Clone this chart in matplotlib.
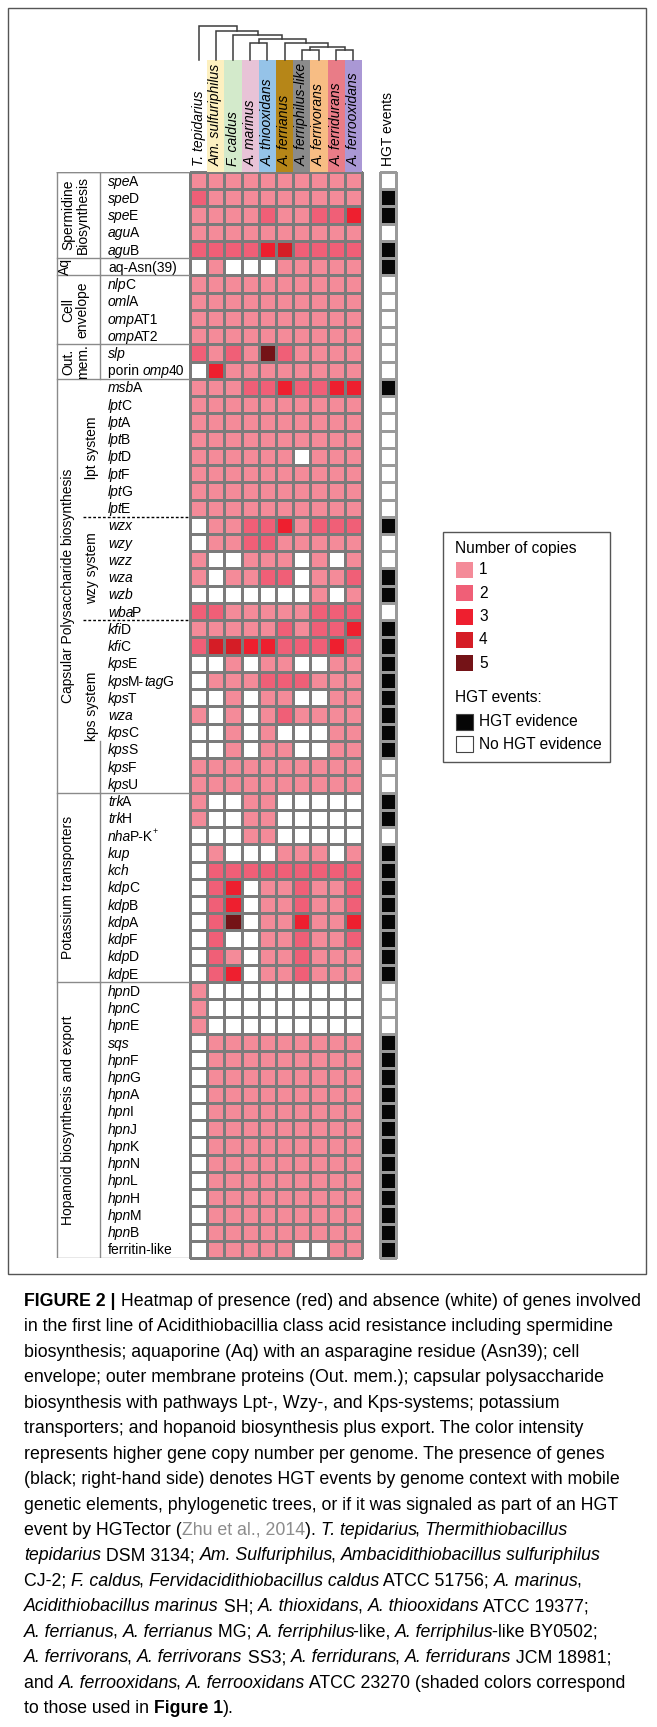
import re
import matplotlib
matplotlib.use('Agg')
import matplotlib.pyplot as plt
import numpy as np
from matplotlib.colors import ListedColormap, BoundaryNorm
from matplotlib.font_manager import FontProperties
from matplotlib.transforms import offset_copy
from matplotlib.patches import Rectangle

FONT = 'Liberation Sans'
plt.rcParams['font.family'] = [FONT, 'DejaVu Sans']

# genomes (columns), in tree order
species = ['T. tepidarius', 'Am. sulfuriphilus', 'F. caldus', 'A. marinus',
           'A. thiooxidans', 'A. ferrianus', 'A. ferriphilus-like',
           'A. ferrivorans', 'A. ferridurans', 'A. ferrooxidans']
species_colors = [None, '#fdf0c0', '#d3eacb', '#e8c3d7', '#95c3e8',
                  '#b68618', '#8b8b8b', '#f7bd84', '#e97c87', '#aa98d5']

# gene labels, *...* = italic part, ^x = superscript
genes = ['*spe*A', '*spe*D', '*spe*E', '*agu*A', '*agu*B',
         'aq-Asn(39)',
         '*nlp*C', '*oml*A', '*omp*AT1', '*omp*AT2',
         '*slp*', 'porin *omp*40',
         '*msb*A', '*lpt*C', '*lpt*A', '*lpt*B', '*lpt*D', '*lpt*F', '*lpt*G', '*lpt*E',
         '*wzx*', '*wzy*', '*wzz*', '*wza*', '*wzb*', '*wba*P',
         '*kfi*D', '*kfi*C', '*kps*E', '*kps*M-*tag*G', '*kps*T', '*wza*', '*kps*C',
         '*kps*S', '*kps*F', '*kps*U',
         '*trk*A', '*trk*H', '*nha*P-K^+', '*kup*', '*kch*', '*kdp*C', '*kdp*B',
         '*kdp*A', '*kdp*F', '*kdp*D', '*kdp*E',
         '*hpn*D', '*hpn*C', '*hpn*E', '*sqs*', '*hpn*F', '*hpn*G', '*hpn*A',
         '*hpn*I', '*hpn*J', '*hpn*K', '*hpn*N', '*hpn*L', '*hpn*H', '*hpn*M',
         '*hpn*B', 'ferritin-like']

# gene copy numbers per genome (0 = absent)
copies = [
    [1, 1, 1, 1, 1, 1, 1, 1, 1, 1],  # speA
    [2, 1, 1, 1, 1, 1, 1, 1, 1, 1],  # speD
    [1, 1, 1, 1, 2, 1, 1, 2, 2, 3],  # speE
    [1, 1, 1, 1, 1, 1, 1, 1, 1, 1],  # aguA
    [2, 2, 2, 2, 3, 4, 2, 2, 2, 2],  # aguB
    [0, 1, 0, 0, 0, 1, 1, 1, 1, 1],  # aq-Asn(39)
    [1, 1, 1, 1, 1, 1, 1, 1, 1, 1],  # nlpC
    [1, 1, 1, 1, 1, 1, 1, 1, 1, 1],  # omlA
    [1, 1, 1, 1, 1, 1, 1, 1, 1, 1],  # ompAT1
    [1, 1, 1, 1, 1, 1, 1, 1, 1, 1],  # ompAT2
    [2, 1, 2, 1, 5, 2, 1, 1, 1, 1],  # slp
    [0, 3, 1, 1, 1, 1, 1, 1, 1, 1],  # porin omp40
    [1, 1, 1, 2, 2, 3, 2, 2, 3, 3],  # msbA
    [1, 1, 1, 1, 1, 1, 1, 1, 1, 1],  # lptC
    [1, 1, 1, 1, 1, 1, 1, 1, 1, 1],  # lptA
    [1, 1, 1, 1, 1, 1, 1, 1, 1, 1],  # lptB
    [1, 1, 1, 1, 1, 1, 0, 1, 1, 1],  # lptD
    [1, 1, 1, 1, 1, 1, 1, 1, 1, 1],  # lptF
    [1, 1, 1, 1, 1, 1, 1, 1, 1, 1],  # lptG
    [1, 1, 1, 1, 1, 1, 1, 1, 1, 1],  # lptE
    [0, 1, 1, 2, 2, 3, 1, 2, 2, 2],  # wzx
    [0, 1, 1, 2, 2, 1, 1, 1, 1, 1],  # wzy
    [1, 0, 0, 1, 1, 1, 0, 1, 0, 1],  # wzz
    [1, 0, 1, 1, 2, 2, 0, 1, 1, 2],  # wza
    [0, 0, 0, 0, 0, 0, 0, 1, 0, 1],  # wzb
    [2, 2, 1, 1, 1, 1, 1, 2, 2, 2],  # wbaP
    [1, 1, 1, 1, 1, 2, 1, 2, 2, 3],  # kfiD
    [2, 4, 4, 3, 3, 2, 2, 2, 3, 2],  # kfiC
    [0, 0, 1, 0, 1, 1, 0, 0, 1, 1],  # kpsE
    [0, 1, 1, 1, 2, 2, 2, 1, 1, 1],  # kpsM-tagG
    [0, 0, 1, 0, 1, 1, 0, 0, 1, 1],  # kpsT
    [1, 0, 1, 0, 1, 2, 1, 1, 1, 1],  # wza (kps)
    [0, 0, 1, 0, 1, 0, 0, 0, 1, 1],  # kpsC
    [0, 0, 1, 0, 1, 1, 0, 0, 1, 1],  # kpsS
    [1, 1, 1, 1, 1, 1, 1, 1, 1, 1],  # kpsF
    [1, 1, 1, 1, 1, 1, 1, 1, 1, 1],  # kpsU
    [1, 0, 0, 1, 1, 0, 0, 0, 0, 0],  # trkA
    [1, 0, 0, 1, 1, 0, 0, 0, 0, 0],  # trkH
    [0, 0, 0, 1, 1, 0, 0, 0, 0, 0],  # nhaP-K+
    [0, 1, 0, 0, 0, 1, 1, 1, 0, 1],  # kup
    [0, 2, 2, 2, 2, 2, 2, 2, 2, 2],  # kch
    [0, 2, 3, 0, 1, 1, 2, 1, 1, 2],  # kdpC
    [0, 2, 3, 0, 1, 1, 2, 1, 1, 2],  # kdpB
    [0, 2, 5, 0, 1, 1, 3, 1, 1, 3],  # kdpA
    [0, 2, 0, 0, 1, 1, 2, 1, 1, 2],  # kdpF
    [0, 2, 1, 0, 1, 1, 2, 1, 1, 1],  # kdpD
    [0, 2, 3, 0, 1, 1, 2, 1, 1, 1],  # kdpE
    [1, 0, 0, 0, 0, 0, 0, 0, 0, 0],  # hpnD
    [1, 0, 0, 0, 0, 0, 0, 0, 0, 0],  # hpnC
    [1, 0, 0, 0, 0, 0, 0, 0, 0, 0],  # hpnE
    [0, 1, 1, 1, 1, 1, 1, 1, 1, 1],  # sqs
    [0, 1, 1, 1, 1, 1, 1, 1, 1, 1],  # hpnF
    [0, 1, 1, 1, 1, 1, 1, 1, 1, 1],  # hpnG
    [0, 1, 1, 1, 1, 1, 1, 1, 1, 1],  # hpnA
    [0, 1, 1, 1, 1, 1, 1, 1, 1, 1],  # hpnI
    [0, 1, 1, 1, 1, 1, 1, 1, 1, 1],  # hpnJ
    [0, 1, 1, 1, 1, 1, 1, 1, 1, 1],  # hpnK
    [0, 1, 1, 1, 1, 1, 1, 1, 1, 1],  # hpnN
    [0, 1, 1, 1, 1, 1, 1, 1, 1, 1],  # hpnL
    [0, 1, 1, 1, 1, 1, 1, 1, 1, 1],  # hpnH
    [0, 1, 1, 1, 1, 1, 1, 1, 1, 1],  # hpnM
    [0, 1, 1, 1, 1, 1, 1, 1, 1, 1],  # hpnB
    [0, 1, 1, 1, 1, 1, 0, 0, 1, 1],  # ferritin-like
]

# 1 = HGT evidence
hgt = [0, 1, 1, 0, 1,
       1,
       0, 0, 0, 0,
       0, 0,
       1, 0, 0, 0, 0, 0, 0, 0,
       1, 0, 0, 1, 1, 0,
       1, 1, 1, 1, 1, 1, 1, 1, 0, 0,
       1, 1, 0, 1, 1, 1, 1, 1, 1, 1, 1,
       0, 0, 0, 1, 1, 1, 1, 1, 1, 1, 1, 1, 1, 1, 1, 1]

# (label, first row, end row)
sections = [('Spermidine\nBiosynthesis', 0, 5), ('Aq', 5, 6),
            ('Cell\nenvelope', 6, 10), ('Out.\nmem.', 10, 12),
            ('Capsular Polysaccharide biosynthesis', 12, 36),
            ('Potassium transporters', 36, 47),
            ('Hopanoid biosynthesis and export', 47, 63)]
subsystems = [('lpt system', 12, 20), ('wzy system', 20, 26), ('kps system', 26, 36)]

# species tree: (left, right, merge height); leaves are column indices
tree = (0, (1, (2, ((3, 4, 17.3), (5, ((6, 7, 10), (8, 9, 10), 13.3), 16.7), 20.7),
                25.0), 29.3), 34.3)

copy_colors = ['#ffffff', '#f48b99', '#f05f77', '#ee1f2f', '#d51d26', '#741317']
copy_labels = ['1', '2', '3', '4', '5']
hgt_colors = ['#ffffff', '#060606']
hgt_labels = ['HGT evidence', 'No HGT evidence']

# caption: *italic*, ~bold~, #grey#
caption = [
    '~FIGURE 2 |~ Heatmap of presence (red) and absence (white) of genes involved',
    'in the first line of Acidithiobacillia class acid resistance including spermidine',
    'biosynthesis; aquaporine (Aq) with an asparagine residue (Asn39); cell',
    'envelope; outer membrane proteins (Out. mem.); capsular polysaccharide',
    'biosynthesis with pathways Lpt-, Wzy-, and Kps-systems; potassium',
    'transporters; and hopanoid biosynthesis plus export. The color intensity',
    'represents higher gene copy number per genome. The presence of genes',
    '(black; right-hand side) denotes HGT events by genome context with mobile',
    'genetic elements, phylogenetic trees, or if it was signaled as part of an HGT',
    'event by HGTector (#Zhu et al., 2014#). *T. tepidarius*, *Thermithiobacillus*',
    '*tepidarius* DSM 3134; *Am. Sulfuriphilus*, *Ambacidithiobacillus sulfuriphilus*',
    'CJ-2; *F. caldus*, *Fervidacidithiobacillus caldus* ATCC 51756; *A. marinus*,',
    '*Acidithiobacillus marinus* SH; *A. thioxidans*, *A. thiooxidans* ATCC 19377;',
    '*A. ferrianus*, *A. ferrianus* MG; *A. ferriphilus*-like, *A. ferriphilus*-like BY0502;',
    '*A. ferrivorans*, *A. ferrivorans* SS3; *A. ferridurans*, *A. ferridurans* JCM 18981;',
    'and *A. ferrooxidans*, *A. ferrooxidans* ATCC 23270 (shaded colors correspond',
    'to those used in ~Figure 1~).',
]

W, H = 657, 1727
DPI = 100
fig = plt.figure(figsize=(W / DPI, H / DPI), dpi=DPI)
renderer = fig.canvas.get_renderer()

GRID_L, GRID_R, GRID_T, GRID_B = 190, 362, 172, 1258
HGT_L, HGT_R = 379.5, 396
LINE = '#8a8a8a'
STYLE_MARK = {'*': 'i', '~': 'b', '#': 'g'}
ITALIC_TUCK = 0.11  # pull glyphs that touch an italic run back by this many em


def px_axes(x0, y0, x1, y1):
    ax = fig.add_axes([x0 / W, 1 - y1 / H, (x1 - x0) / W, (y1 - y0) / H])
    ax.axis('off')
    return ax


def font(style, size):
    return FontProperties(family=FONT, size=size,
                          style='italic' if style == 'i' else 'normal',
                          weight='bold' if style == 'b' else 'normal')


def run_width(s, prop):
    # width as laid out by the renderer; bars keep edge spaces counted
    w = renderer.get_text_width_height_descent('|' + s + '|', prop, ismath=False)[0]
    return w - renderer.get_text_width_height_descent('||', prop, ismath=False)[0]


def parse_runs(s):
    runs = []
    for part in re.split(r'(\*[^*]*\*|~[^~]*~|#[^#]*#|\^.)', s):
        if not part:
            continue
        if part[0] in STYLE_MARK:
            runs.append((part[1:-1], STYLE_MARK[part[0]]))
        elif part[0] == '^':
            runs.append((part[1:], 'sup'))
        else:
            runs.append((part, 'n'))
    return runs


def draw_runs(ax, x, y, text, size, dy=0):
    runs = parse_runs(text)
    dx = 0
    for k, (s, style) in enumerate(runs):
        if style == 'sup':
            prop, off = font('n', size * 0.62), size * 0.5 * DPI / 72
        else:
            prop, off = font(style, size), 0
        color = '#8c8c8c' if style == 'g' else 'black'
        tr = offset_copy(ax.transData, x=dx, y=dy + off, units='dots')
        ax.text(x, y, s, transform=tr, fontproperties=prop, color=color,
                ha='left', va='baseline', clip_on=False)
        dx += run_width(s, prop)
        nxt = runs[k + 1][0] if k + 1 < len(runs) else ' '
        if style == 'i' and not nxt[:1].isspace():
            dx -= ITALIC_TUCK * size * DPI / 72


n_rows, n_cols = len(genes), len(species)

# page frame, legend, caption
over = px_axes(0, 0, W, H)
over.set_xlim(0, W)
over.set_ylim(H, 0)
over.add_patch(Rectangle((8, 8), 638, 1266, fill=False, ec='#555555', lw=1.0))

# heatmap of copy numbers
ax = px_axes(GRID_L, GRID_T, GRID_R, GRID_B)
cmap = ListedColormap(copy_colors)
norm = BoundaryNorm(np.arange(-0.5, len(copy_colors)), cmap.N)
mesh = ax.pcolormesh(np.array(copies), cmap=cmap, norm=norm,
                     edgecolors='#7b7b7b', linewidth=0.9)
mesh.set_clip_on(False)
ax.set_xlim(0, n_cols)
ax.set_ylim(n_rows, 0)

# HGT column
axh = px_axes(HGT_L, GRID_T, HGT_R, GRID_B)
mesh = axh.pcolormesh(np.array(hgt)[:, None], cmap=ListedColormap(hgt_colors),
                      vmin=0, vmax=1, edgecolors='#9a9a9a', linewidth=0.9)
mesh.set_clip_on(False)
axh.set_xlim(0, 1)
axh.set_ylim(n_rows, 0)
over.text((HGT_L + HGT_R) / 2, 166, 'HGT events', rotation=90, ha='center',
          va='bottom', fontsize=10)

# coloured species header
axc = px_axes(GRID_L, 60, GRID_R, GRID_T)
axc.set_xlim(0, n_cols)
axc.set_ylim(0, 1)
for i, (name, c) in enumerate(zip(species, species_colors)):
    if c:
        axc.bar(i + 0.5, 1, width=1, bottom=0, color=c, lw=0)
    axc.text(i + 0.5, 6 / 112, name, rotation=90, ha='center', va='bottom',
             fontsize=10, style='italic')

# species tree
axd = px_axes(GRID_L, 20, GRID_R, 60)
axd.set_xlim(0, n_cols)
axd.set_ylim(0, 40)


def draw_tree(node):
    if isinstance(node, int):
        return node + 0.5, 0
    left, right, h = node
    xl, hl = draw_tree(left)
    xr, hr = draw_tree(right)
    axd.plot([xl, xl, xr, xr], [hl, h, h, hr], color='#3c3c3c', lw=1.1,
             solid_joinstyle='miter', clip_on=False)
    return (xl + xr) / 2, h


draw_tree(tree)

# section boxes and gene labels
axl = px_axes(0, GRID_T, GRID_L, GRID_B)
axl.set_xlim(0, GRID_L)
axl.set_ylim(n_rows, 0)
BOX_L, DIV_X = 57, 100
axl.plot([BOX_L, BOX_L], [0, n_rows], color=LINE, lw=1.0)
axl.plot([BOX_L, GRID_L], [0, 0], color=LINE, lw=1.0)
axl.plot([BOX_L, GRID_L], [n_rows, n_rows], color=LINE, lw=1.0)
axl.plot([GRID_L, GRID_L], [0, n_rows], color='#777777', lw=1.0)
for name, r0, r1 in sections:
    axl.plot([BOX_L, GRID_L], [r0, r0], color=LINE, lw=1.0)
    if name.startswith('Capsular'):
        # divider only below the kps label
        axl.plot([DIV_X, DIV_X], [r1 - 3, r1], color=LINE, lw=1.0)
    else:
        axl.plot([DIV_X, DIV_X], [r0, r1], color=LINE, lw=1.0)
    if '\n' in name:
        tx = 75.5
    elif r1 - r0 == 1:
        tx = 64.5
    else:
        tx = 68
    axl.text(tx, (r0 + r1) / 2, name, rotation=90, ha='center', va='center',
             fontsize=10, linespacing=1.05, multialignment='center')
for k, (name, r0, r1) in enumerate(subsystems):
    axl.text(92, (r0 + r1) / 2, name, rotation=90, ha='center', va='center', fontsize=10)
    if k:
        axl.plot([83, GRID_L], [r0, r0], color='black', lw=1.0, ls=(0, (2, 1.5)))
for r, g in enumerate(genes):
    draw_runs(axl, 108, r + 0.5, g, 10, dy=-5)

# legend
LEG = 11.2
over.add_patch(Rectangle((442.5, 531.5), 167.5, 230, fill=False, ec='#555555', lw=1.0))
over.text(455, 548, 'Number of copies', fontsize=LEG, ha='left', va='center')
for k, lab in enumerate(copy_labels):
    yc = 570 + 23.3 * k
    over.add_patch(Rectangle((456, yc - 8), 17, 16, color=copy_colors[k + 1], lw=0))
    over.text(479, yc, lab, fontsize=LEG, ha='left', va='center')
over.text(455, 698, 'HGT events:', fontsize=LEG, ha='left', va='center')
for k, lab in enumerate(hgt_labels):
    yc = 721.5 + 22.5 * k
    over.add_patch(Rectangle((456, yc - 8), 17, 16, fc=hgt_colors[1 - k],
                             ec='#444444', lw=0.8))
    over.text(479, yc, lab, fontsize=LEG, ha='left', va='center')

# caption
for i, line in enumerate(caption):
    draw_runs(over, 24, 1306 + 25.44 * i, line, 12.8)

fig.savefig('out.png', dpi=DPI)
